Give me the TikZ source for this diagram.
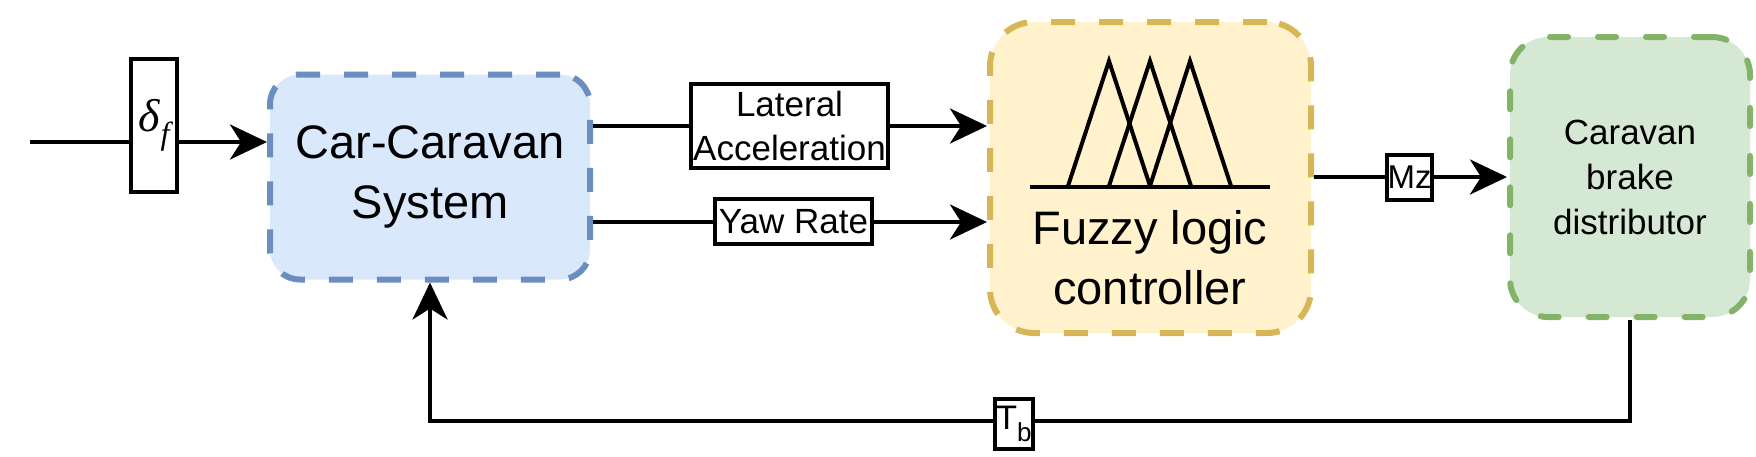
\documentclass[tikz,border=0pt]{standalone}
\usepackage{fontspec}
\setmainfont{Liberation Sans}
\newfontfamily\tms{Liberation Serif}
\usetikzlibrary{arrows.meta}
\definecolor{bfill}{HTML}{DAE8FC}\definecolor{bline}{HTML}{6C8EBF}
\definecolor{yfill}{HTML}{FFF2CC}\definecolor{yline}{HTML}{D6B656}
\definecolor{gfill}{HTML}{D5E8D4}\definecolor{gline}{HTML}{82B366}
\tikzset{
  block/.style={draw, line width=6pt, dash pattern=on 24pt off 24pt, inner sep=0pt, align=center},
  lbl/.style={draw, fill=white, line width=4pt, inner sep=0pt, align=center},
  arr/.style={line width=4pt, -{Stealth[length=37pt,width=35pt,inset=11pt]}},
  wire/.style={line width=4pt},
  tri/.style={line width=4pt, line join=miter}
}
\begin{document}
\begin{tikzpicture}[x=1pt,y=-1pt]
\useasboundingbox (0,0) rectangle (1756,456);
% main blocks
\node[block, fill=bfill, draw=bline, rounded corners=30pt, minimum width=320pt, minimum height=205pt,
  font=\fontsize{47}{60}\selectfont] (car) at (430,177) {Car-Caravan\\System};
\node[block, fill=yfill, draw=yline, rounded corners=44pt, minimum width=321pt, minimum height=311pt] (fuzzy) at (1150.5,177.5) {};
\node[block, fill=gfill, draw=gline, rounded corners=38pt, line cap=round, dash pattern=on 18pt off 30pt,
  minimum width=240pt, minimum height=280pt, font=\fontsize{35}{45}\selectfont] (green) at (1630,177) {Caravan\\brake\\distributor};
% fuzzy contents
\node[align=center, inner sep=0pt, font=\fontsize{47}{60}\selectfont] (ftext) at (1150,258) {Fuzzy logic\\controller};
\draw[tri] (1068,186) -- (1109,61) -- (1150,186);
\draw[tri] (1109,186) -- (1150,61) -- (1191,186);
\draw[tri] (1150,186) -- (1190,61) -- (1231,186);
\draw[wire] (1030,187) -- (1270,187);
% connectors
\coordinate (src) at (30,142);
\coordinate (latY) at (0,126);
\coordinate (yawY) at (0,222);
\coordinate (fbY) at (0,421);
\draw[arr] (src) -- (src -| car.west);
\draw[arr] (car.east |- latY) -- (fuzzy.west |- latY);
\draw[arr] (car.east |- yawY) -- (fuzzy.west |- yawY);
\draw[arr] (fuzzy.east |- 0,177) -- (green.west |- 0,177);
\draw[arr, line join=miter] (green.south) -- (green.south |- fbY) -- (car.south |- fbY) -- (car.south);
% labels
\node[lbl, minimum width=46pt, minimum height=133pt, font=\fontsize{46}{50}\selectfont\tms\itshape] (delta) at (154,125.5) {δ\raisebox{-0.28em}{\fontsize{32}{32}\selectfont\kern1pt f}};
\node[lbl, minimum width=197pt, minimum height=84pt, font=\fontsize{35}{44}\selectfont] (lat) at (789.5,126) {Lateral\\Acceleration};
\node[lbl, minimum width=157pt, minimum height=45pt, font=\fontsize{35}{40}\selectfont] (yaw) at (793.5,221.5) {Yaw Rate};
\node[lbl, minimum width=45pt, minimum height=45pt, font=\fontsize{33}{40}\selectfont] (mz) at (1409.5,177.5) {Mz};
\node[lbl, minimum width=38pt, minimum height=50pt, font=\fontsize{34}{40}\selectfont] (tb) at (1014,424) {T\raisebox{-0.35em}{\fontsize{26}{26}\selectfont b}};
\end{tikzpicture}
\end{document}
